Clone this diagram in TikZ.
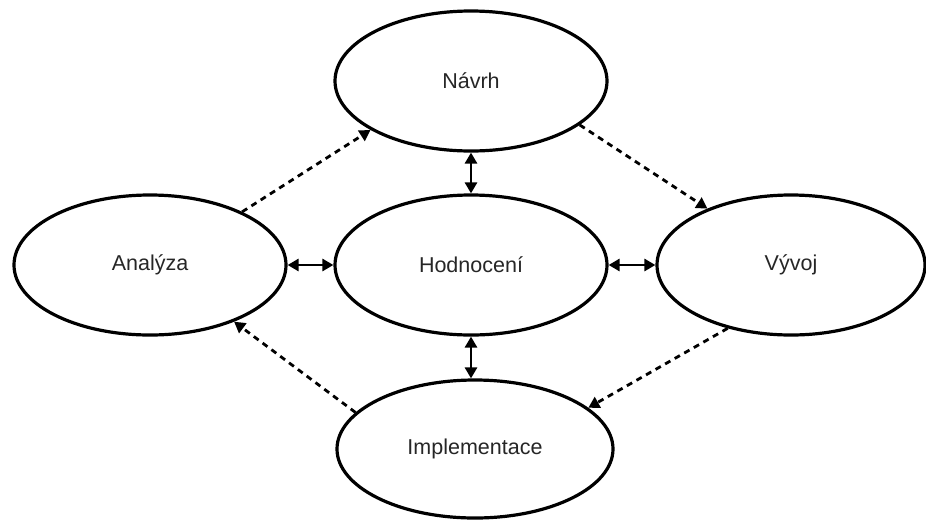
\documentclass[tikz,border=0pt]{standalone}
\usepackage{fontspec}
\setmainfont{Liberation Sans}
\usetikzlibrary{shapes.geometric,arrows.meta}
\begin{document}
\begin{tikzpicture}[x=1pt,y=-1pt,
  phase/.style={draw=black,line width=3.2pt,ellipse,inner sep=0pt,
    minimum width=272pt,minimum height=140pt,
    font=\fontsize{21.5}{25}\selectfont,text=black!85},
  link/.style={line width=2.8pt,{Triangle[length=11pt,width=12pt]}-{Triangle[length=11pt,width=12pt]}},
  flow/.style={line width=2.8pt,dash pattern=on 6pt off 5pt,-{Triangle[length=11pt,width=12pt]}}]
  \useasboundingbox (0,0) rectangle (926,520);
  \fill[white] (0,0) rectangle (926,520);

  % the five phases
  \node[phase] (navrh) at (471,81) {Návrh};
  \node[phase] (hodn)  at (471,265) {Hodnocení};
  \node[phase] (anal)  at (150,265) {Analýza};
  \node[phase,minimum width=268pt] (vyvoj) at (791,265) {Vývoj};
  \node[phase,minimum width=276pt,minimum height=138pt] (impl) at (475,449) {Implementace};

  % evaluation is linked both ways with every phase
  \draw[link] (navrh.south) -- (hodn.north);
  \draw[link] (hodn.south) -- (hodn.south |- impl.north);
  \draw[link] (anal.east) -- (hodn.west);
  \draw[link] (hodn.east) -- (vyvoj.west);

  % the development cycle
  \draw[flow] (anal.30) -- (navrh.206);
  \draw[flow] (navrh.338) -- (vyvoj.146);
  \draw[flow] (vyvoj.225) -- (impl.20);
  \draw[flow] (impl.163) -- (anal.326);
\end{tikzpicture}
\end{document}
